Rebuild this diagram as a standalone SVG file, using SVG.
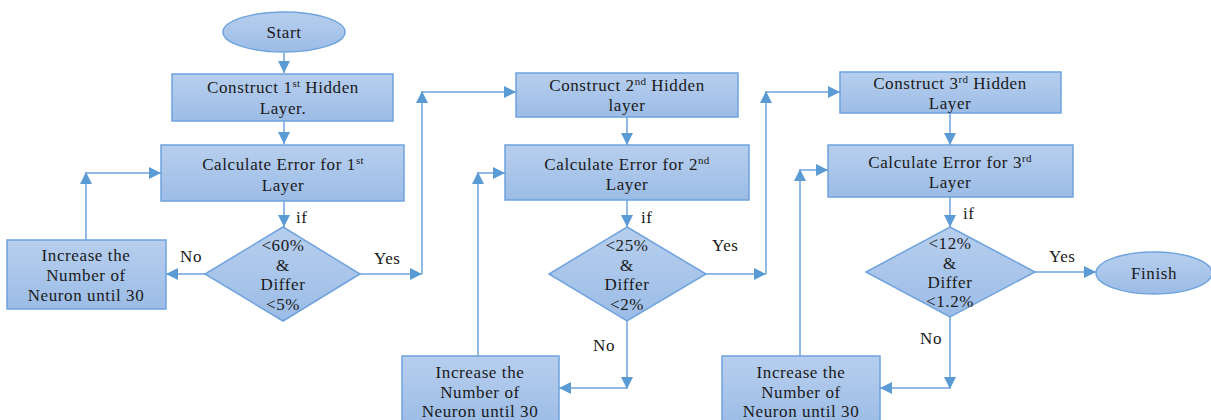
<svg xmlns="http://www.w3.org/2000/svg" width="1211" height="420" viewBox="0 0 1211 420">
<defs>
<linearGradient id="g" x1="0" y1="0" x2="0" y2="1">
<stop offset="0" stop-color="#b7cfee"/>
<stop offset="1" stop-color="#9cbce6"/>
</linearGradient>
<marker id="a" markerUnits="userSpaceOnUse" markerWidth="12" markerHeight="12" viewBox="0 0 12 12" refX="12" refY="6" orient="auto">
<path d="M0,0 L12,6 L0,12 Z" fill="#5b9bd5"/>
</marker>
<style>
.n{fill:url(#g);stroke:#6fa3dd;stroke-width:1.5}
.c{fill:none;stroke:#6fa3dd;stroke-width:1.5;marker-end:url(#a)}
text{font-family:"Liberation Serif","Times New Roman",serif;font-size:17px;letter-spacing:0.6px;fill:#1a1a1a;text-anchor:middle}
.s{font-size:11px;letter-spacing:0.3px}
.lb{text-anchor:start}
</style>
</defs>
<g id="start"><ellipse class="n" cx="284" cy="32" rx="61" ry="20"/><text x="284" y="38">Start</text></g>
<g id="construct1"><rect class="n" x="172" y="74" width="221" height="47"/><text x="283" y="93">Construct 1<tspan class="s" dy="-6">st</tspan><tspan dy="6"> Hidden</tspan></text><text x="283" y="114">Layer.</text></g>
<g id="calc1"><rect class="n" x="161" y="145" width="243" height="56"/><text x="283" y="170">Calculate  Error for 1<tspan class="s" dy="-6">st</tspan></text><text x="283" y="191">Layer</text></g>
<g id="dec1"><polygon class="n" points="283,227 360,274 283,321 205,274"/><text x="283" y="251">&lt;60%</text><text x="283" y="271">&amp;</text><text x="283" y="290">Differ</text><text x="283" y="310">&lt;5%</text></g>
<g id="inc1"><rect class="n" x="7" y="240" width="159" height="69"/><text x="86" y="261">Increase the</text><text x="86" y="281">Number of</text><text x="86" y="301">Neuron until  30</text></g>
<g id="construct2"><rect class="n" x="516" y="73" width="222" height="44"/><text x="627" y="91">Construct 2<tspan class="s" dy="-6">nd</tspan><tspan dy="6"> Hidden</tspan></text><text x="627" y="111">layer</text></g>
<g id="calc2"><rect class="n" x="505" y="145" width="244" height="55"/><text x="627" y="170">Calculate  Error for 2<tspan class="s" dy="-6">nd</tspan></text><text x="627" y="190">Layer</text></g>
<g id="dec2"><polygon class="n" points="627,227 706,274 627,321 549,274"/><text x="627" y="251">&lt;25%</text><text x="627" y="271">&amp;</text><text x="627" y="290">Differ</text><text x="627" y="310">&lt;2%</text></g>
<g id="inc2"><rect class="n" x="402" y="356" width="157" height="70"/><text x="480" y="378">Increase the</text><text x="480" y="398">Number of</text><text x="480" y="417">Neuron until  30</text></g>
<g id="construct3"><rect class="n" x="840" y="72" width="221" height="41"/><text x="950" y="89">Construct 3<tspan class="s" dy="-6">rd</tspan><tspan dy="6"> Hidden</tspan></text><text x="950" y="109">Layer</text></g>
<g id="calc3"><rect class="n" x="828" y="145" width="245" height="52"/><text x="950" y="168">Calculate  Error for 3<tspan class="s" dy="-6">rd</tspan></text><text x="950" y="188">Layer</text></g>
<g id="dec3"><polygon class="n" points="950,227 1035,272 950,317 866,272"/><text x="950" y="249">&lt;12%</text><text x="950" y="269">&amp;</text><text x="950" y="288">Differ</text><text x="950" y="307">&lt;1.2%</text></g>
<g id="inc3"><rect class="n" x="722" y="356" width="158" height="70"/><text x="801" y="378">Increase the</text><text x="801" y="398">Number of</text><text x="801" y="417">Neuron until  30</text></g>
<g id="finish"><ellipse class="n" cx="1154" cy="273" rx="58" ry="21"/><text x="1154" y="279">Finish</text></g>
<g id="connectors">
<path class="c" d="M284,53 V73"/>
<path class="c" d="M284,121 V144"/>
<path class="c" d="M284,201 V227"/>
<path class="c" d="M205,274 H166"/>
<path class="c" d="M86,240 V172"/>
<path class="c" d="M86,173 H161"/>
<path class="c" d="M360,274 H422"/>
<path class="c" d="M422,274 V91"/>
<path class="c" d="M422,92 H516"/>
<path class="c" d="M627,117 V145"/>
<path class="c" d="M627,200 V227"/>
<path class="c" d="M706,274 H766"/>
<path class="c" d="M766,274 V91"/>
<path class="c" d="M766,92 H840"/>
<path class="c" d="M627,321 V389"/>
<path class="c" d="M627,388 H559"/>
<path class="c" d="M478,356 V172"/>
<path class="c" d="M478,173 H505"/>
<path class="c" d="M950,113 V145"/>
<path class="c" d="M950,197 V227"/>
<path class="c" d="M1035,272 H1096"/>
<path class="c" d="M950,317 V389"/>
<path class="c" d="M950,388 H880"/>
<path class="c" d="M800,356 V169"/>
<path class="c" d="M800,170 H828"/>
<text class="lb" x="296" y="223">if</text>
<text class="lb" x="180" y="262">No</text>
<text class="lb" x="374" y="264">Yes</text>
<text class="lb" x="641" y="223">if</text>
<text class="lb" x="712" y="251">Yes</text>
<text class="lb" x="593" y="351">No</text>
<text class="lb" x="963" y="219">if</text>
<text class="lb" x="1049" y="262">Yes</text>
<text class="lb" x="920" y="344">No</text>
</g>
</svg>
